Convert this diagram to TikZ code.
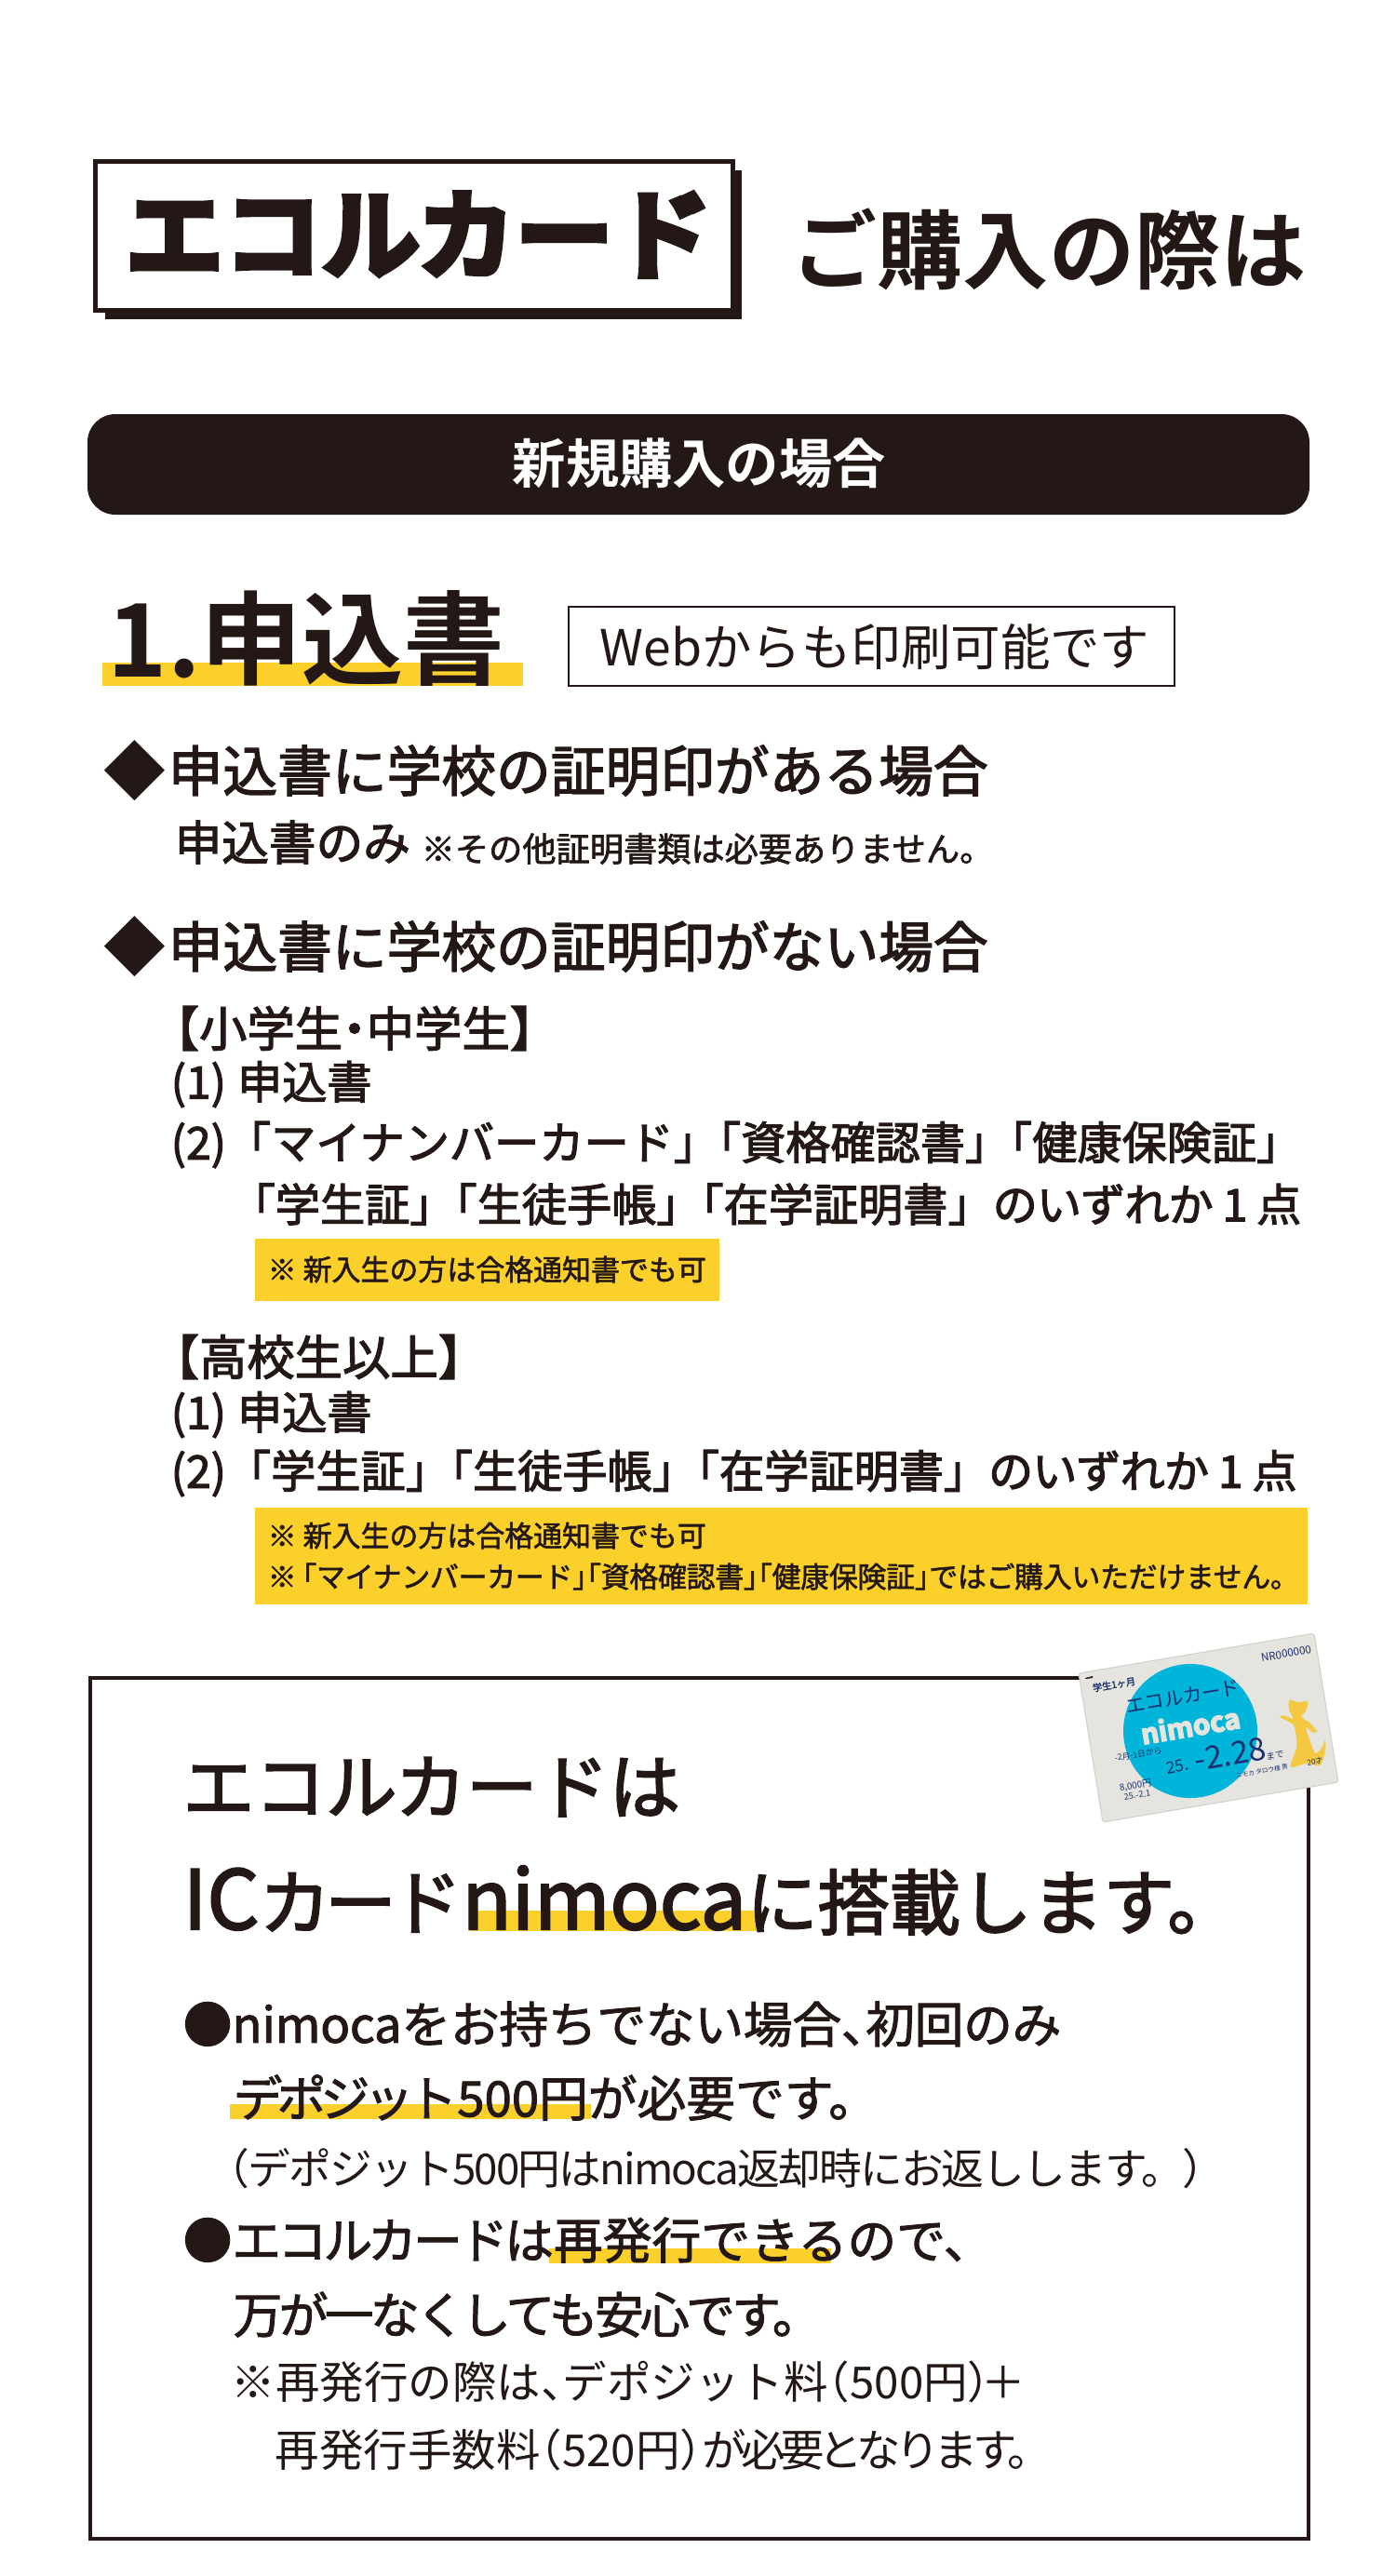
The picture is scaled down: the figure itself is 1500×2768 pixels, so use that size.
\documentclass[tikz,border=0pt]{standalone}
\usepackage{fontspec}
\setmainfont{Noto Sans CJK JP}
\newfontfamily\jpheavy[FakeBold=5]{Noto Sans CJK JP Bold}
\newfontfamily\jpbold{Noto Sans CJK JP Bold}
\newfontfamily\jpsemi[FakeBold=2.4]{Noto Sans CJK JP}
\newfontfamily\jpmid[FakeBold=1.8]{Noto Sans CJK JP}
\newfontfamily\jpreg{Noto Sans CJK JP}
\newcommand\fsz[1]{\fontsize{#1}{#1}\selectfont}
\newcommand\tight{\hspace{-.5em}}
\newcommand\dotgap{\hspace{-.25em}}
\newcommand\squeeze[2]{{\addfontfeature{LetterSpace=#1}#2}}
\definecolor{inkblack}{HTML}{231815}
\definecolor{markyellow}{HTML}{FBD02B}
\definecolor{cardblue}{HTML}{00B5D9}
\definecolor{cardgray}{HTML}{E5E4DE}
\definecolor{cardnavy}{HTML}{1B2F6E}
\definecolor{otter}{HTML}{F5C842}
\tikzset{
  txt/.style={anchor=west,inner sep=0pt,text=inkblack},
  head/.style={txt,font=\jpsemi\fsz{16.7}},
  item/.style={txt,font=\jpsemi\fsz{13.7}},
  small/.style={txt,font=\jpmid\fsz{8.8}},
  lead/.style={txt,font=\jpmid\fsz{15}},
  body/.style={txt,font=\jpreg\fsz{13.5}},
  cardtxt/.style={inner sep=0pt,text=cardnavy,rotate=9.7},
}
\begin{document}
\begin{tikzpicture}[x=.01cm,y=-.01cm]
\useasboundingbox (0,0) rectangle (1500,2768);
\fill[white] (0,0) rectangle (1500,2768);

% title
\fill[inkblack] (113,183) rectangle (797,343);
\draw[inkblack,line width=5pt*.2845,fill=white] (102.5,173.5) rectangle (787,333);
\node[txt,font=\jpheavy\fsz{30}] (logo) at (134,252) {エコルカード};
\node[txt,font=\jpbold\fsz{26.2}] (title) at (850,268) {ご購入の際は};

% bar
\fill[inkblack,rounded corners=30*.1mm] (94,445) rectangle (1407,553);
\node[txt,text=white,font=\jpbold\fsz{16.3}] (newbuy) at (550,498) {新規購入の場合};

% section 1
\fill[markyellow] (110,712) rectangle (562,737);
\node[txt,font=\jpbold\fsz{31}] (secone) at (115,686) {1.申込書};
\draw[inkblack,line width=2.5*.2845pt] (611,652) rectangle (1262,737);
\node[txt,font=\jpreg\fsz{15.2}] (web) at (644,695) {Webからも印刷可能です};

\node[txt,font=\jpbold\fsz{19}] (marka) at (111,828) {◆};
\node[head] (casea) at (180,828) {申込書に学校の証明印がある場合};
\node[txt,font=\jpsemi\fsz{14.4}] (onlyform) at (187,905) {申込書のみ};
\node[txt,font=\jpmid\fsz{10.3}] (nomore) at (452,912) {※その他証明書類は必要ありません。};

\node[txt,font=\jpbold\fsz{19}] (markb) at (111,1017) {◆};
\node[head] (caseb) at (180,1017) {申込書に学校の証明印がない場合};

% junior
\node[item,font=\jpsemi\fsz{14.6}] (junior) at (162,1105) {【小学生\dotgap ・\dotgap 中学生】};
\node[item] (jone) at (183,1165) {(1)\hspace{.25em}申込書};
\node[item] (jtwo) at (183,1230) {(2)「マイナンバーカード」\tight 「資格確認書」\tight 「健康保険証」};
\node[item] (jdocs) at (247,1294) {「学生証」\tight 「生徒手帳」\tight 「在学証明書」\squeeze{-2}{ のいずれか 1 点}};
\fill[markyellow] (274,1331) rectangle (773,1398);
\node[small] (jnote) at (287,1364) {※ 新入生の方は合格通知書でも可};

% senior
\node[item,font=\jpsemi\fsz{14.6}] (senior) at (162,1458) {【高校生以上】};
\node[item] (sone) at (183,1520) {(1)\hspace{.25em}申込書};
\node[item] (stwo) at (183,1583) {(2)「学生証」\tight 「生徒手帳」\tight 「在学証明書」\squeeze{-2}{ のいずれか 1 点}};
\fill[markyellow] (274,1620) rectangle (1405,1724);
\node[small] (snotea) at (287,1650) {※ 新入生の方は合格通知書でも可};
\node[small] (snoteb) at (287,1694) {\squeeze{-1}{※\hspace{-.3em}「マイナンバーカード」\hspace{-1em}「資格確認書」\hspace{-1em}「健康保険証」\tight ではご購入いただけません。}};

% lower frame
\draw[inkblack,line width=3.5*.2845pt] (97,1803) rectangle (1406,2728);

% card
\draw[cardgray!80!gray,fill=cardgray,line width=.3pt,rounded corners=3*.1mm] (1159,1798) -- (1412,1755) -- (1438,1915) -- (1185,1958) -- cycle;
\fill[cardblue] (1279,1860) circle (72);
\fill[inkblack] (1166,1803) -- (1174,1801) -- (1174,1803) -- (1167,1804) -- cycle;
\begin{scope}[shift={(1120,1730)},x=.01cm/3,y=-.01cm/3]
\fill[otter] plot[smooth cycle,tension=.5] coordinates {(797,290) (825,298) (855,295) (850,325) (835,345)
  (860,362) (885,390) (872,395) (850,378) (862,420) (880,462) (900,445) (912,420) (912,455) (895,500)
  (850,495) (800,505) (820,440) (812,375) (790,358) (765,345) (778,340) (808,350) (795,320)};
\end{scope}
\node[cardtxt,font=\jpmid\fsz{2.9}] (cardterm) at (1197,1810) {学生1ヶ月};
\node[cardtxt,font=\jpreg\fsz{3.3}] (cardno) at (1382,1777) {NR000000};
\node[cardtxt,font=\jpreg\fsz{5.9}] (cardname) at (1271,1823) {エコルカード};
\node[cardtxt,text=cardgray,font=\jpheavy\fsz{8.4}] (cardnimoca) at (1279,1854) {nimoca};
\node[cardtxt,font=\jpreg\fsz{2.5}] (cardfrom) at (1223,1885) {-2月-1日から};
\node[cardtxt,font=\jpreg\fsz{5}] (cardyear) at (1265,1898) {25.};
\node[cardtxt,font=\jpreg\fsz{9.6}] (cardto) at (1322,1885) {-2.28};
\node[cardtxt,font=\jpreg\fsz{2.7}] (carduntil) at (1370,1886) {まで};
\node[cardtxt,font=\jpreg\fsz{1.9}] (cardowner) at (1356,1903) {ニモカ タロウ様 男};
\node[cardtxt,font=\jpreg\fsz{2.8}] (cardprice) at (1220,1919) {8,000円};
\node[cardtxt,font=\jpreg\fsz{2.6}] (cardsold) at (1222,1929) {25.-2.1};
\node[cardtxt,font=\jpreg\fsz{2.3}] (cardage) at (1413,1893) {20才};

% underlines
\foreach \xa/\ya/\xb/\yb in {505/2053/818/2075, 247/2261/635/2277, 590/2416/893/2432} {
  \fill[markyellow] (\xa,\ya) rectangle (\xb,\yb);
}
\node[txt,font=\jpsemi\fsz{21.8}] (ecol) at (196,1920) {エコルカードは};
\node[txt,font=\jpsemi\fsz{21.8}] (iccard) at (196,2042) {{\fsz{25}IC}\squeeze{-8}{カード}{\fsz{25}nimoca}に搭載します。};
\node[lead] (nonimoca) at (196,2175) {●\squeeze{-.5}{nimocaをお持ちでない場合、\tight 初回のみ}};
\node[lead] (deposit) at (250,2254) {\squeeze{-11}{デポジット}500円が必要です。};
\node[lead] (reissue) at (196,2407) {●\squeeze{-7}{エコルカードは}再発行できるので、};
\node[lead] (lost) at (250,2487) {\squeeze{-7}{万が一なくしても安心です。}};
\node[body,font=\jpreg\fsz{13}] (refund) at (222,2330) {\squeeze{-4}{（デポジット500円はnimoca返却時にお返しします。）}};
\node[body] (feea) at (248,2559) {※再発行の際は、\tight デポジット料\tight （500円）\hspace{-.7em}＋};
\node[body] (feeb) at (295,2632) {再発行手数料\tight （520円）\tight \squeeze{-12}{が必要となります。}};
\end{tikzpicture}
\end{document}
